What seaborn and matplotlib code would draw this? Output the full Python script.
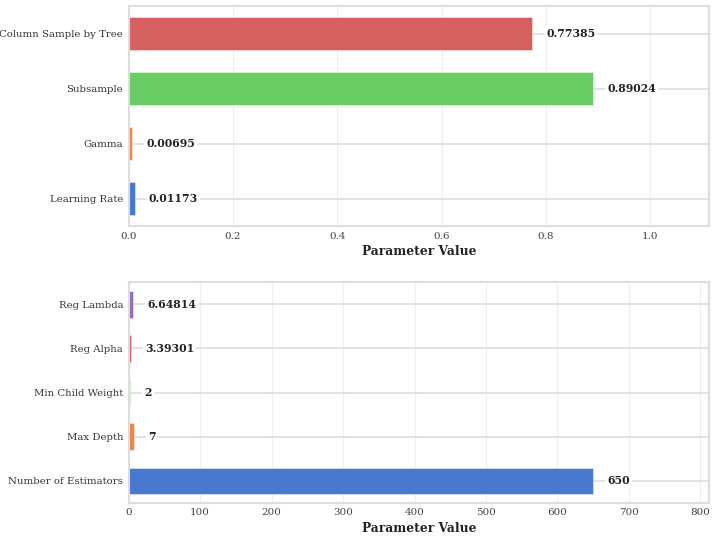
import matplotlib
matplotlib.use("Agg")
import matplotlib.pyplot as plt
import pandas as pd
import seaborn as sns

# hyperparameters, listed bottom-to-top as they appear on the chart
frac_params = ['Learning Rate', 'Gamma', 'Subsample', 'Column Sample by Tree']
frac_values = [0.01173, 0.00695, 0.89024, 0.77385]
frac_labels = ['0.01173', '0.00695', '0.89024', '0.77385']

int_params = ['Number of Estimators', 'Max Depth', 'Min Child Weight', 'Reg Alpha', 'Reg Lambda']
int_values = [650, 7, 2, 3.39301, 6.64814]
int_labels = ['650', '7', '2', '3.39301', '6.64814']

sns.set_theme(style='whitegrid')
plt.rcParams['font.family'] = ['DejaVu Serif', 'DejaVu Sans']

fig, axes = plt.subplots(2, 1, figsize=(7.15, 5.43), dpi=100)
fig.subplots_adjust(left=0.180, right=0.992, top=0.989, bottom=0.074, hspace=0.253)


def draw_panel(ax, params, values, labels):
    df = pd.DataFrame({'param': params, 'value': values})
    colors = sns.color_palette('muted', len(params))
    pal = dict(zip(params, colors))
    order = params[::-1]
    sns.barplot(data=df, x='value', y='param', hue='param', order=order,
                hue_order=params, palette=pal, legend=False, width=0.6,
                saturation=1, edgecolor=(1, 1, 1, 0.5), linewidth=0.6, ax=ax)
    vmax = max(values)
    ax.set_xlim(0, vmax * 1.25)
    for p, v, lab in zip(params, values, labels):
        ax.text(v + vmax * 0.03, order.index(p), lab, ha='left', va='center',
                fontsize=7.8, fontweight='bold', color='#222222',
                bbox=dict(facecolor='white', edgecolor='none', pad=1.5))
    ax.set_xlabel('Parameter Value', fontsize=8.8, fontweight='bold', color='#222222', labelpad=3)
    ax.set_ylabel('')
    ax.tick_params(axis='y', labelsize=7.3, colors='#333333', length=0, pad=4)
    ax.tick_params(axis='x', labelsize=7.5, colors='#444444', length=0, pad=4)
    ax.grid(axis='x', color='#eeeeee', linewidth=0.8)
    ax.grid(axis='y', color='#dddddd', linewidth=1.2)
    for s in ax.spines.values():
        s.set_color('#dddddd')
        s.set_linewidth(1.5)


draw_panel(axes[0], frac_params, frac_values, frac_labels)
draw_panel(axes[1], int_params, int_values, int_labels)

fig.savefig('out.png', dpi=100)
